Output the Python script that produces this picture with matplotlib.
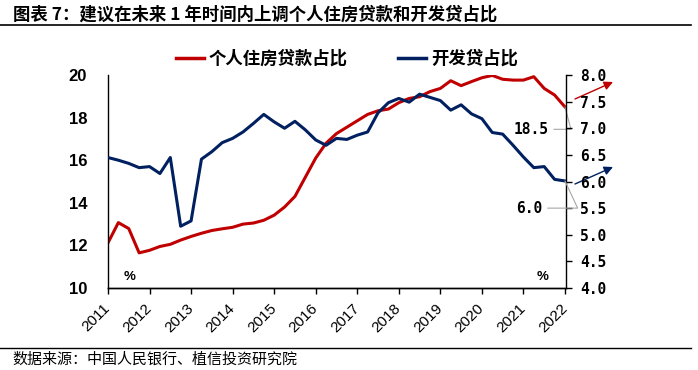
import matplotlib.pyplot as plt
import numpy as np
from matplotlib.lines import Line2D

# quarterly data, 2011Q1 - 2022Q1
years = [str(y) for y in range(2011, 2023)]
housing_share = [12.12, 13.07, 12.79, 11.65, 11.77, 11.95, 12.05, 12.25, 12.42, 12.57,
                 12.70, 12.78, 12.85, 13.00, 13.05, 13.18, 13.42, 13.80, 14.30, 15.20,
                 16.10, 16.80, 17.25, 17.55, 17.85, 18.15, 18.32, 18.40, 18.70, 18.90,
                 18.98, 19.22, 19.37, 19.73, 19.50, 19.69, 19.87, 19.98, 19.80, 19.76,
                 19.76, 19.92, 19.37, 19.06, 18.50]
dev_share = [6.45, 6.40, 6.34, 6.26, 6.28, 6.15, 6.45, 5.16, 5.26, 6.42,
             6.56, 6.73, 6.81, 6.93, 7.09, 7.26, 7.12, 7.00, 7.13, 6.97,
             6.78, 6.68, 6.81, 6.79, 6.87, 6.93, 7.29, 7.48, 7.56, 7.49,
             7.64, 7.58, 7.52, 7.34, 7.44, 7.27, 7.18, 6.92, 6.89, 6.68,
             6.46, 6.26, 6.28, 6.04, 6.01]

red = '#C00000'
navy = '#002060'
cjk = ['Noto Sans CJK SC', 'DejaVu Sans']
num_font = 'Liberation Sans'
mono = 'DejaVu Sans Mono'

x = np.arange(len(housing_share))

fig = plt.figure(figsize=(6.98, 3.70), dpi=100)
ax = fig.add_axes([0.1547, 0.2216, 0.6562, 0.5757])
ax2 = ax.twinx()

ax.plot(x, housing_share, color=red, lw=2.2, solid_joinstyle='round')
ax2.plot(x, dev_share, color=navy, lw=2.2, solid_joinstyle='round')

ax.set_xlim(0, 44.1)
ax.set_ylim(10, 20)
ax2.set_ylim(4, 8)

ax.set_yticks([10, 12, 14, 16, 18, 20])
ax.set_yticklabels(['10', '12', '14', '16', '18', '20'],
                   fontfamily=num_font, fontweight='bold', fontsize=12)
ax.tick_params(axis='y', length=0, pad=15)

r_ticks = [4.0, 4.5, 5.0, 5.5, 6.0, 6.5, 7.0, 7.5, 8.0]
ax2.set_yticks(r_ticks)
ax2.set_yticklabels(['%.1f' % t for t in r_ticks],
                    fontfamily=mono, fontweight='bold', fontsize=10.5)
ax2.tick_params(axis='y', length=4, width=1, pad=6)

ax.set_xticks(x[::4])
ax.set_xticklabels(years, rotation=45, ha='right', va='center',
                   rotation_mode='anchor', fontfamily=num_font,
                   fontsize=11)
ax.tick_params(axis='x', length=4, width=1, pad=9)

for a in (ax, ax2):
    a.spines['top'].set_visible(False)
    for s in ('left', 'right', 'bottom'):
        a.spines[s].set_linewidth(1)
ax.spines['right'].set_visible(False)
ax2.spines['left'].set_visible(False)

# unit markers
ax.text(0.047, 0.025, '%', transform=ax.transAxes, fontfamily=num_font,
        fontweight='bold', fontsize=9.5, ha='center', va='bottom')
ax.text(0.948, 0.025, '%', transform=ax.transAxes, fontfamily=num_font,
        fontweight='bold', fontsize=9.5, ha='center', va='bottom')

# end-value labels with leader lines
ax.annotate('%.1f' % housing_share[-1], xy=(x[-1], housing_share[-1]),
            xytext=(x[-1] - 1.6, 17.45), ha='right', va='center',
            fontfamily=mono, fontweight='bold', fontsize=10.5,
            arrowprops=dict(arrowstyle='-', color='#A6A6A6', lw=0.8,
                            shrinkA=2, shrinkB=0,
                            connectionstyle='angle,angleA=0,angleB=105,rad=0'))
ax2.annotate('%.1f' % dev_share[-1], xy=(x[-1], dev_share[-1]),
             xytext=(x[-1] - 2.2, 5.5), ha='right', va='center',
             fontfamily=mono, fontweight='bold', fontsize=10.5,
             arrowprops=dict(arrowstyle='-', color='#A6A6A6', lw=0.8,
                             shrinkA=2, shrinkB=0,
                             connectionstyle='angle,angleA=0,angleB=115,rad=0'))

# upward arrows outside the plot
ax.annotate('', xy=(613 / 698, 1 - 82 / 370), xytext=(575 / 698, 1 - 99 / 370),
            xycoords='figure fraction', textcoords='figure fraction',
            arrowprops=dict(arrowstyle='-|>', color=red, lw=1.0,
                            mutation_scale=13, shrinkA=0, shrinkB=0))
ax.annotate('', xy=(613 / 698, 1 - 167 / 370), xytext=(575 / 698, 1 - 184 / 370),
            xycoords='figure fraction', textcoords='figure fraction',
            arrowprops=dict(arrowstyle='-|>', color=navy, lw=1.0,
                            mutation_scale=13, shrinkA=0, shrinkB=0))

# legend
handles = [Line2D([], [], color=red, lw=2.5), Line2D([], [], color=navy, lw=2.5)]
fig.legend(handles, ['个人住房贷款占比', '开发贷占比'], loc='center',
           bbox_to_anchor=(0.497, 1 - 59 / 370), ncol=2, frameon=False,
           prop=dict(family=cjk, weight='bold', size=12.5),
           handlelength=1.6, handletextpad=0.3, columnspacing=2.9)

# title and source
fig.text(13 / 698, 1 - 15 / 370, '图表 7：建议在未来 1 年时间内上调个人住房贷款和开发贷占比',
         fontfamily=cjk, fontweight='bold', fontsize=12.5, va='center', ha='left')
fig.add_artist(Line2D([0.0, 0.99], [1 - 25 / 370] * 2, color='black', lw=1.2))
fig.add_artist(Line2D([0.0, 0.99], [1 - 348 / 370] * 2, color='black', lw=1.0))
fig.text(12 / 698, 1 - 359 / 370, '数据来源：中国人民银行、植信投资研究院',
         fontfamily=cjk, fontsize=10.8, va='center', ha='left')

fig.savefig('out.png', dpi=100)
